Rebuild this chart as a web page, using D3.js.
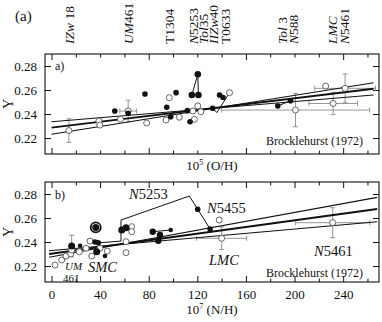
<!DOCTYPE html>
<html>
<head>
<meta charset="utf-8">
<script src="https://cdn.jsdelivr.net/npm/d3@7"></script>
<style>
  body { margin: 0; background: #fff; }
</style>
</head>
<body>
<svg id="chart" width="382" height="322" font-family="Liberation Serif, Times New Roman, DejaVu Serif, serif"></svg>
<script>
// ---- data: panel a (x = 10^5 O/H) ----
const openA = [
  { x: 1.43, y: 0.2262, ey: 0.0098 },
  { x: 3.9, y: 0.2342 }, { x: 3.97, y: 0.2308 }, { x: 5.68, y: 0.2356 },
  { x: 6.31, y: 0.2425, ey: 0.009, ex: 0.69 },
  { x: 7.83, y: 0.2325 }, { x: 9.69, y: 0.2536 }, { x: 9.42, y: 0.235 },
  { x: 10.52, y: 0.2373 }, { x: 11.63, y: 0.2425 }, { x: 12.04, y: 0.2467 },
  { x: 12.29, y: 0.2419 }, { x: 11.76, y: 0.2356 }, { x: 14.65, y: 0.2578 },
  { x: 20.08, y: 0.2433, ey: 0.0139, ex: 6.1 },
  { x: 23.18, y: 0.2488, ey: 0.0093, ex: 2.0 },
  { x: 22.56, y: 0.2633 },
  { x: 24.16, y: 0.2614, ey: 0.012, ex: 2.5 }
];
const filledA = [
  { x: 5.21, y: 0.2425 }, { x: 6.31, y: 0.2406 }, { x: 7.69, y: 0.2567 },
  { x: 9.48, y: 0.2456 }, { x: 10.25, y: 0.2578 }, { x: 9.81, y: 0.2378 },
  { x: 11.18, y: 0.2428 }, { x: 11.4, y: 0.2336 }, { x: 11.55, y: 0.2558, r: 3.3 },
  { x: 12.09, y: 0.2558, r: 3.3 }, { x: 12.04, y: 0.2731, r: 3.3 },
  { x: 13.26, y: 0.2448 }, { x: 13.83, y: 0.2558 }, { x: 14.11, y: 0.2538 },
  { x: 18.62, y: 0.2467 }, { x: 19.67, y: 0.2511 }
];
const linksA = [
  [[12.04, 0.2731], [11.55, 0.2558]],
  [[12.04, 0.2731], [12.09, 0.2558]],
  [[13.26, 0.2448], [13.61, 0.2412], [14.65, 0.2578]],
  [[18.62, 0.2467], [19.67, 0.2511]]
];
const fitA = {
  x: [0, 26.5],
  mid: [0.2287, 0.2610],
  steep: [0.2231, 0.2661],
  flat: [0.2336, 0.2558]
};
const galaxyNames = [
  ['IZw', ' 18'], ['UM', '461'], ['', 'T1304'], ['N', '5253'], ['Tol', '35'],
  ['IIZw', '40'], ['', 'T0633'], ['Tol', ' 3'], ['N', '588'], ['LMC', ''], ['N', '5461']
];
const galaxyOH = [1.5, 6.3, 9.7, 11.7, 12.5, 13.3, 14.3, 19.0, 19.9, 23.1, 24.1];

// ---- data: panel b (x = 10^7 N/H) ----
const openB = [
  { x: 2.9, y: 0.2208 }, { x: 8.4, y: 0.225 }, { x: 11.9, y: 0.2283 },
  { x: 15.8, y: 0.23 }, { x: 16.6, y: 0.2333 }, { x: 22.9, y: 0.2319 },
  { x: 28.4, y: 0.2348 }, { x: 31.7, y: 0.2408 }, { x: 33.1, y: 0.2283 },
  { x: 39.9, y: 0.2348 }, { x: 45.9, y: 0.2325 }, { x: 66, y: 0.2528 },
  { x: 66, y: 0.2486 }, { x: 61.3, y: 0.2403 }, { x: 61.3, y: 0.2311 },
  { x: 138, y: 0.2583 },
  { x: 140, y: 0.2431, ey: 0.0094, ex: 20.6 },
  { x: 231.4, y: 0.2561, ey: 0.0125, ex: 30.5 }
];
const filledB = [
  { x: 16.6, y: 0.2367, ey: 0.009, r: 3.5 }, { x: 23.5, y: 0.2369, r: 2.3 },
  { x: 35.8, y: 0.24 }, { x: 38.5, y: 0.2394 }, { x: 37.2, y: 0.2319, r: 3.5 },
  { x: 44, y: 0.2283, r: 2.3 }, { x: 36.4, y: 0.2522, r: 3.5, ring: true },
  { x: 57.8, y: 0.25, r: 3.5 }, { x: 61.3, y: 0.2519, r: 3.5 },
  { x: 83.3, y: 0.2486, r: 3.2 }, { x: 98.1, y: 0.25, r: 2.3 },
  { x: 89.3, y: 0.2458, r: 3.2 }, { x: 87.9, y: 0.2411, r: 3.2 },
  { x: 120.3, y: 0.2673 }, { x: 130.5, y: 0.2508 }
];
const linksB = [
  [[83.3, 0.2486], [98.1, 0.25]],
  [[37.4, 0.2392], [57.2, 0.2408], [57.2, 0.2583], [113.4, 0.2783], [120.3, 0.2673], [130.5, 0.2508]]
];
const fitB = {
  x: [-2, 268],
  mid: [0.2300, 0.2675],
  steep: [0.2273, 0.2772],
  flat: [0.2327, 0.2569]
};
const yTicks = [0.22, 0.24, 0.26, 0.28];

// ---- layout ----
const FONT = 'Liberation Serif, Times New Roman, DejaVu Serif, serif';
const svg = d3.select('#chart');
const left = 45, right = 379;

const xA = d3.scaleLinear().domain([-0.535, 26.95]).range([left, right]);
const yA = d3.scaleLinear().domain([0.2067, 0.29]).range([154, 54]);
const xB = d3.scaleLinear().domain([-5.35, 269.5]).range([left, right]);
const yB = d3.scaleLinear().domain([0.2067, 0.29]).range([282, 182]);

function drawFrame(x, y, step, majorEvery, showLabels) {
  const x1 = x.domain()[1];
  const all = d3.range(0, x1, step);
  const major = all.filter((_, i) => i % majorEvery === 0);
  const minor = all.filter((_, i) => i % majorEvery !== 0);
  const [yb, yt] = y.range();
  const g = svg.append('g');

  const add = (axis, tx, ty) => {
    g.append('g').attr('transform', `translate(${tx},${ty})`).call(axis)
      .attr('font-family', FONT)
      .call((s) => s.select('.domain').remove())
      .call((s) => s.selectAll('line').attr('stroke', '#111'));
  };
  add(d3.axisBottom(x).tickValues(major).tickSize(-6)
    .tickPadding(8).tickFormat(showLabels ? d3.format('d') : ''), 0, yb);
  add(d3.axisBottom(x).tickValues(minor).tickSize(-3.5).tickFormat(''), 0, yb);
  add(d3.axisTop(x).tickValues(major).tickSize(-6).tickFormat(''), 0, yt);
  add(d3.axisTop(x).tickValues(minor).tickSize(-3.5).tickFormat(''), 0, yt);
  add(d3.axisLeft(y).tickValues(yTicks).tickSize(-6).tickPadding(8)
    .tickFormat(d3.format('.2f')), left, 0);
  add(d3.axisRight(y).tickValues(yTicks).tickSize(-6).tickFormat(''), right, 0);

  g.selectAll('g').attr('font-size', 13);
  g.selectAll('text').attr('fill', '#111');

  g.append('rect')
    .attr('x', left).attr('y', yt)
    .attr('width', right - left).attr('height', yb - yt)
    .attr('fill', 'none').attr('stroke', '#111').attr('stroke-width', 1.1);
}

function drawData(x, y, open, filled, links, fit) {
  const g = svg.append('g');
  const errs = open.concat(filled);

  // error bars
  errs.filter((d) => d.ey).forEach((d) => {
    const cx = x(d.x);
    g.append('line').attr('x1', cx).attr('x2', cx)
      .attr('y1', y(d.y - d.ey)).attr('y2', y(d.y + d.ey));
    [d.y - d.ey, d.y + d.ey].forEach((v) => {
      g.append('line').attr('x1', cx - 2.5).attr('x2', cx + 2.5)
        .attr('y1', y(v)).attr('y2', y(v));
    });
  });
  errs.filter((d) => d.ex).forEach((d) => {
    const cy = y(d.y);
    g.append('line').attr('y1', cy).attr('y2', cy)
      .attr('x1', x(d.x - d.ex)).attr('x2', x(d.x + d.ex));
    [d.x - d.ex, d.x + d.ex].forEach((v) => {
      g.append('line').attr('y1', cy - 2.5).attr('y2', cy + 2.5)
        .attr('x1', x(v)).attr('x2', x(v));
    });
  });
  g.selectAll('line').attr('stroke', '#8a8a8a').attr('stroke-width', 0.9);

  // fit lines
  const line = d3.line().x((d) => x(d[0])).y((d) => y(d[1]));
  ['steep', 'flat', 'mid'].forEach((k) => {
    g.append('path')
      .attr('d', line(fit.x.map((v, i) => [v, fit[k][i]])))
      .attr('fill', 'none').attr('stroke', '#111')
      .attr('stroke-width', k === 'mid' ? 1.9 : 1.1);
  });

  // connecting lines
  links.forEach((pts) => {
    g.append('path').attr('d', line(pts))
      .attr('fill', 'none').attr('stroke', '#111').attr('stroke-width', 1);
  });

  g.selectAll('circle.open').data(open).join('circle')
    .attr('class', 'open')
    .attr('cx', (d) => x(d.x)).attr('cy', (d) => y(d.y)).attr('r', 3)
    .attr('fill', '#fff').attr('stroke', '#555').attr('stroke-width', 0.9);

  g.selectAll('circle.ring').data(filled.filter((d) => d.ring)).join('circle')
    .attr('class', 'ring')
    .attr('cx', (d) => x(d.x)).attr('cy', (d) => y(d.y)).attr('r', 5)
    .attr('fill', '#fff').attr('stroke', '#111').attr('stroke-width', 1.8);

  g.selectAll('circle.fill').data(filled).join('circle')
    .attr('class', 'fill')
    .attr('cx', (d) => x(d.x)).attr('cy', (d) => y(d.y)).attr('r', (d) => d.r || 2.8)
    .attr('fill', '#111');
}

drawFrame(xA, yA, 2, 4, false);
drawFrame(xB, yB, 20, 2, true);
drawData(xA, yA, openA, filledA, linksA, fitA);
drawData(xB, yB, openB, filledB, linksB, fitB);

// ---- text ----
function label(tx, ty, parts, size, anchor) {
  const t = svg.append('text').attr('x', tx).attr('y', ty)
    .attr('font-size', size).attr('text-anchor', anchor || 'start');
  parts.forEach(([s, it]) => {
    t.append('tspan').text(s).attr('font-style', it ? 'italic' : 'normal');
  });
  return t;
}

label(15, 21, [['(a)', false]], 15);
label(55, 70, [['a)', false]], 12);
label(55, 199, [['b)', false]], 12);

// galaxy names on top, rotated
galaxyNames.forEach(([it, rest], i) => {
  const t = svg.append('text')
    .attr('transform', `translate(${xA(galaxyOH[i])},44) rotate(-90)`)
    .attr('dy', '0.35em').attr('font-size', 13.5);
  if (it) t.append('tspan').attr('font-style', 'italic').text(it);
  if (rest) t.append('tspan').text(rest);
});

// Y titles
[yA, yB].forEach((y) => {
  svg.append('text')
    .attr('transform', `translate(8,${(y.range()[0] + y.range()[1]) / 2}) rotate(-90)`)
    .attr('dy', '0.35em').attr('text-anchor', 'middle').attr('font-size', 14)
    .text('Y');
});

// x titles
function xTitle(ty, sup, rest) {
  const t = svg.append('text').attr('x', 212).attr('y', ty)
    .attr('text-anchor', 'middle').attr('font-size', 13);
  t.append('tspan').text('10');
  t.append('tspan').attr('dy', -5).attr('font-size', 8).text(sup);
  t.append('tspan').attr('dy', 5).text(' ' + rest);
}
xTitle(170, '5', '(O/H)');
xTitle(314, '7', '(N/H)');

label(363, 145, [['Brocklehurst (1972)', false]], 12, 'end');
label(363, 277, [['Brocklehurst (1972)', false]], 12, 'end');

label(129, 199, [['N', true], ['5253', false]], 14.5);
label(207, 213, [['N', true], ['5455', false]], 14.5);
label(209, 265, [['LMC', true]], 14.5);
label(314, 256, [['N', true], ['5461', false]], 14.5);
label(88, 272, [['SMC', true]], 14.5);
label(65, 270, [['UM', true]], 11);
label(63, 282, [['461', false]], 11);

svg.selectAll('text').attr('font-family', FONT).attr('fill', '#111');
</script>
</body>
</html>
